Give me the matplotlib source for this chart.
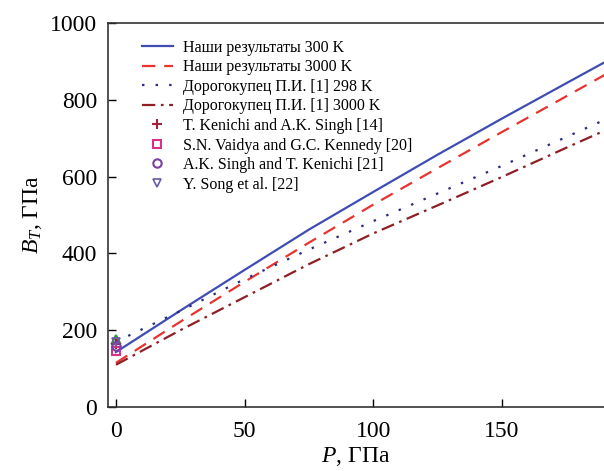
import numpy as np
import matplotlib
matplotlib.use("Agg")
import matplotlib.pyplot as plt

plt.rcParams["font.family"] = ["Liberation Serif", "DejaVu Serif"]
plt.rcParams["mathtext.fontset"] = "custom"
plt.rcParams["mathtext.rm"] = "Liberation Serif"
plt.rcParams["mathtext.it"] = "Liberation Serif:italic"

# pressure grid, GPa
P = [0, 25, 50, 75, 100, 125, 150, 175, 190]

# bulk modulus B_T, GPa
ours_300 = [143, 251, 357, 462, 560, 657, 751, 843, 898]
ours_3000 = [115, 222, 326, 428, 527, 622, 716, 809, 865]
dor_298 = [170, 250, 333, 410, 484, 556, 628, 703, 748]
dor_3000 = [110, 200, 286, 372, 452, 525, 599, 675, 720]

# experimental points at P = 0
exp_P = [0.0]
kenichi = [165]
vaidya = [145]
singh = [160]
song = [168]
extra_green = [176]

fig = plt.figure(figsize=(6.04, 4.71), dpi=100)
ax = fig.add_axes([108 / 604, 64 / 471, 1 - 108 / 604, 384 / 471])

ax.plot(P, ours_300, color="#3f4db3", lw=1.6, label="Наши результаты 300 K")
ax.plot(P, ours_3000, color="#e8332f", lw=1.6, ls=(0, (6, 4)), label="Наши результаты 3000 K")
ax.plot(P, dor_298, color="#2b2b80", lw=1.6, ls=(0, (1.1, 5)), label="Дорогокупец П.И. [1] 298 K")
ax.plot(P, dor_3000, color="#8e1f24", lw=1.6, ls=(0, (6, 2.5, 1.2, 2.5)), label="Дорогокупец П.И. [1] 3000 K")

ax.plot(exp_P, extra_green, ls="none", marker="^", ms=6, mfc="none", mec="#3a9a3a", mew=1.5)
ax.plot(exp_P, kenichi, ls="none", marker="+", ms=7, color="#a3203e", mew=1.5,
        label="T. Kenichi and A.K. Singh [14]")
ax.plot(exp_P, vaidya, ls="none", marker="s", ms=6, mfc="none", mec="#d9318e", mew=1.5,
        label="S.N. Vaidya and G.C. Kennedy [20]")
ax.plot(exp_P, singh, ls="none", marker="o", ms=6, mfc="none", mec="#7a3fa3", mew=1.5,
        label="A.K. Singh and T. Kenichi [21]")
ax.plot(exp_P, song, ls="none", marker="v", ms=6, mfc="none", mec="#6a5aa8", mew=1.2,
        label="Y. Song et al. [22]")

ax.set_xlim(-3.1, 189.7)
ax.set_ylim(0, 1000)
ax.set_xticks([0, 50, 100, 150])
ax.set_yticks([0, 200, 400, 600, 800, 1000])
ax.tick_params(direction="in", length=6, width=1, labelsize=17)
ax.tick_params(axis="x", pad=10)
ax.tick_params(axis="y", pad=8)
ax.spines["right"].set_visible(False)
for s in ["left", "bottom", "top"]:
    ax.spines[s].set_linewidth(1.2)
    ax.spines[s].set_color("#333333")

ax.set_xlabel("$P$, ГПа", fontsize=17, labelpad=2)
ax.set_ylabel("$B_T$, ГПа", fontsize=17, labelpad=4)

handles, labels = ax.get_legend_handles_labels()
ax.legend(handles, labels, loc="upper left", frameon=False, fontsize=11.5,
          handlelength=2.0, handletextpad=0.6, labelspacing=0.22,
          bbox_to_anchor=(0.045, 0.985), borderaxespad=0.3)

fig.savefig("out.png", dpi=100)
